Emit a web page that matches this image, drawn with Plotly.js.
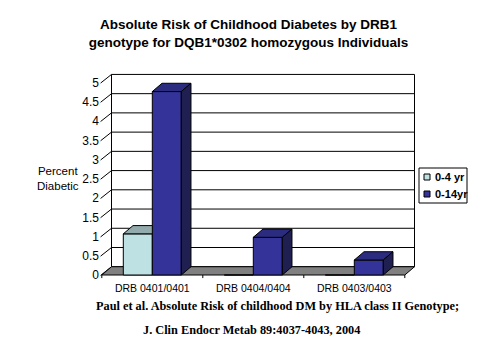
<!DOCTYPE html>
<html>
<head>
<meta charset="utf-8">
<script src="https://cdn.plot.ly/plotly-3.0.1.min.js"></script>
<style>html,body{margin:0;padding:0;background:#fff;}#chart{width:497px;height:355px;}</style>
</head>
<body>
<div id="chart"></div>
<script>
// ---- data ----
const categories = ['DRB 0401/0401', 'DRB 0404/0404', 'DRB 0403/0403'];
const seriesNames = ['0-4 yr', '0-14yr'];
const risk0to4 = [1.07, 0, 0];
const risk0to14 = [4.77, 0.98, 0.39];
const yTickVals = [0, 0.5, 1, 1.5, 2, 2.5, 3, 3.5, 4, 4.5, 5];
const yTickText = ['0', '0.5', '1', '1.5', '2', '2.5', '3', '3.5', '4', '4.5', '5'];

// ---- style / geometry ----
const series = [risk0to4, risk0to14];
const frontColors = ['#BEE1E3', '#333399'];
const topColors = ['#93ABAD', '#2B2B80'];
const sideColors = ['#7C9496', '#1F1F52'];
const BARGAP = 0.426;
const W = (1 - BARGAP) / 2;     // one bar width in category units
const DX = 0.096, DY = 0.215;   // depth offset (x units, y units)
const SANS = 'Liberation Sans, Arial, sans-serif';
const SERIF = 'Liberation Serif, Times New Roman, serif';
const L = 100, T = 70, PW = 320, PH = 210;
const px = v => (v - L) / PW;
const py = v => (T + PH - v) / PH;

const traces = [];
series.forEach((vals, s) => {
  traces.push({
    type: 'bar', x: categories.map((c, i) => i), y: vals, name: seriesNames[s],
    marker: {color: frontColors[s], line: {color: '#000', width: 1}},
    hoverinfo: 'skip', showlegend: false
  });
});
// 3-D top and side faces, computed from the same values
series.forEach((vals, s) => {
  vals.forEach((v, i) => {
    if (!(v > 0)) return;
    const xL = i - W + s * W, xR = xL + W;
    const next = series[s + 1] ? series[s + 1][i] : null;
    const hidden = next !== null && next >= v;
    const top = hidden
      ? {x: [xL, xR, xR, xL + DX, xL], y: [v, v, v + DY, v + DY, v]}
      : {x: [xL, xR, xR + DX, xL + DX, xL], y: [v, v, v + DY, v + DY, v]};
    traces.push({type: 'scatter', mode: 'lines', x: top.x, y: top.y, fill: 'toself',
      fillcolor: topColors[s], line: {color: '#000', width: 1}, hoverinfo: 'skip', showlegend: false});
    if (!hidden) {
      traces.push({type: 'scatter', mode: 'lines',
        x: [xR, xR + DX, xR + DX, xR, xR], y: [0, DY, v + DY, v, 0], fill: 'toself',
        fillcolor: sideColors[s], line: {color: '#000', width: 1}, hoverinfo: 'skip', showlegend: false});
    }
  });
});

const x0 = -0.5, x1 = categories.length - 0.5;
const shapes = [];
// back wall
shapes.push({type: 'rect', xref: 'x', yref: 'y', x0: x0 + DX, x1: x1 + DX, y0: DY, y1: 5 + DY,
  fillcolor: '#fff', line: {color: '#000', width: 1}, layer: 'below'});
yTickVals.forEach(v => {
  if (v > 0 && v < 5) shapes.push({type: 'line', xref: 'x', yref: 'y', x0: x0 + DX, x1: x1 + DX,
    y0: v + DY, y1: v + DY, line: {color: '#000', width: 1}, layer: 'below'});
  shapes.push({type: 'line', xref: 'x', yref: 'y', x0: x0 - 0.012, x1: x0 + DX, y0: v - 0.01, y1: v + DY,
    line: {color: '#000', width: 1}, layer: 'below'});
});
// floor
shapes.push({type: 'path', xref: 'x', yref: 'y',
  path: `M${x0},0 L${x1},0 L${x1 + DX},${DY} L${x0 + DX},${DY} Z`,
  fillcolor: '#808080', line: {color: '#000', width: 1}, layer: 'below'});
// category boundary ticks
for (let b = x0; b <= x1 + 1e-9; b += 1) {
  shapes.push({type: 'line', xref: 'x', yref: 'y', x0: b, x1: b, y0: 0, y1: -0.08,
    line: {color: '#000', width: 1}});
}
// manual legend
shapes.push({type: 'rect', xref: 'paper', yref: 'paper', x0: px(419), x1: px(467), y0: py(203), y1: py(168),
  fillcolor: '#fff', line: {color: '#000', width: 1}});
const legendY = [177, 194];
const annotations = [];
seriesNames.forEach((n, s) => {
  shapes.push({type: 'rect', xref: 'paper', yref: 'paper', x0: px(424), x1: px(430),
    y0: py(legendY[s] + 3), y1: py(legendY[s] - 3), fillcolor: frontColors[s], line: {color: '#000', width: 1}});
  annotations.push({xref: 'paper', yref: 'paper', x: px(432.5), y: py(legendY[s]), xanchor: 'left', yanchor: 'middle',
    text: n, showarrow: false, font: {family: SANS, size: 11, color: '#000', weight: 'bold'}});
});
annotations.push({xref: 'paper', yref: 'paper', x: px(57.5), y: py(178), xanchor: 'center', yanchor: 'middle',
  text: 'Percent<br>Diabetic', showarrow: false, align: 'center', font: {family: SANS, size: 11.5, color: '#000'}});
annotations.push({xref: 'paper', yref: 'paper', x: px(277), y: py(305.5), xanchor: 'center', yanchor: 'middle',
  text: 'Paul et al. Absolute Risk of childhood DM by HLA class II Genotype;', showarrow: false,
  font: {family: SERIF, size: 12.3, color: '#000', weight: 'bold'}});
annotations.push({xref: 'paper', yref: 'paper', x: px(251.5), y: py(330), xanchor: 'center', yanchor: 'middle',
  text: 'J. Clin Endocr Metab 89:4037-4043, 2004', showarrow: false,
  font: {family: SERIF, size: 12.3, color: '#000', weight: 'bold'}});

const layout = {
  width: 497, height: 355,
  margin: {l: L, r: 497 - L - PW, t: T, b: 355 - T - PH, pad: 0},
  paper_bgcolor: '#fff', plot_bgcolor: 'rgba(0,0,0,0)',
  title: {text: 'Absolute Risk of Childhood Diabetes by DRB1<br>genotype for DQB1*0302 homozygous Individuals',
    font: {family: SANS, size: 13.5, color: '#000', weight: 'bold'},
    xref: 'container', x: 0.5, xanchor: 'center', yref: 'container', y: 1 - 29 / 355, yanchor: 'top'},
  barmode: 'group', bargap: BARGAP, bargroupgap: 0,
  showlegend: false,
  xaxis: {range: [-0.5 - 1.8 / 101, -0.5 - 1.8 / 101 + PW / 101], tickvals: [0, 1, 2], ticktext: categories,
    showgrid: false, zeroline: false, showline: false, ticks: '', fixedrange: true,
    tickfont: {family: SANS, size: 10.5, color: '#000'}},
  yaxis: {range: [-5 / 38.46, (275 - T) / 38.46], tickvals: yTickVals, ticktext: yTickText,
    showgrid: false, zeroline: false, showline: false, ticks: '', fixedrange: true,
    tickfont: {family: SANS, size: 12, color: '#000'}},
  shapes: shapes, annotations: annotations
};
Plotly.newPlot('chart', traces, layout, {staticPlot: true, displayModeBar: false});
</script>
</body>
</html>
